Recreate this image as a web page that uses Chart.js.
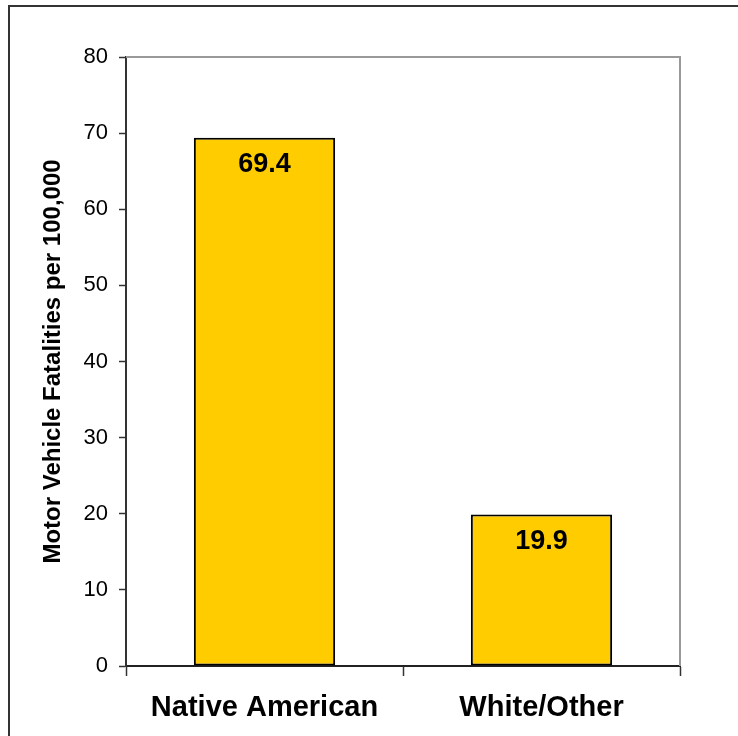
<!DOCTYPE html>
<html>
<head>
<meta charset="utf-8">
<script src="https://cdn.jsdelivr.net/npm/chart.js@4.4.1/dist/chart.umd.min.js"></script>
<style>
  html, body { margin: 0; padding: 0; background: #fff; overflow: hidden; }
  canvas { display: block; }
</style>
</head>
<body>
<canvas id="chart1" width="738" height="736"></canvas>
<script>
// values
var categories = ['Native American', 'White/Other'];
var fatalities = [69.4, 19.9];
var yTitle = 'Motor Vehicle Fatalities per 100,000';

var fontFamily = "'Liberation Sans', Arial, sans-serif";

// frame around the whole picture + grey top/right edge of the plot area
var framePlugin = {
    id: 'frame',
    beforeDraw: function(chart) {
        var c = chart.ctx;
        c.save();
        c.fillStyle = '#333';
        c.fillRect(8, 5, chart.width, 2);
        c.fillRect(8, 5, 2, chart.height);
        c.restore();
    },
    afterDraw: function(chart) {
        var a = chart.chartArea, c = chart.ctx;
        c.save();
        c.strokeStyle = '#999';
        c.lineWidth = 2;
        c.beginPath();
        c.moveTo(a.left, a.top);
        c.lineTo(a.right, a.top);
        c.lineTo(a.right, a.bottom);
        c.stroke();
        c.restore();
    }
};

// value labels inside the bars, near the top
var barLabels = {
    id: 'barLabels',
    afterDatasetsDraw: function(chart) {
        var c = chart.ctx;
        var meta = chart.getDatasetMeta(0);
        c.save();
        c.font = 'bold 27px ' + fontFamily;
        c.fillStyle = '#000';
        c.textAlign = 'center';
        c.textBaseline = 'middle';
        meta.data.forEach(function(bar, i) {
            c.fillText(fatalities[i].toFixed(1), bar.x, bar.y + 27);
        });
        c.restore();
    }
};

var ctx1 = document.getElementById('chart1');
var chart1 = new Chart(ctx1, {
    type: 'bar',
    data: {
        labels: categories,
        datasets: [{
            data: fatalities,
            backgroundColor: '#FFCC00',
            borderColor: '#000',
            borderWidth: 2,
            borderSkipped: false,
            barPercentage: 0.51,
            categoryPercentage: 1
        }]
    },
    options: {
        responsive: false,
        animation: false,
        events: [],
        layout: { padding: { left: 35, right: 58, top: 57, bottom: 0 } },
        plugins: {
            legend: { display: false },
            tooltip: { enabled: false }
        },
        scales: {
            x: {
                grid: {
                    display: true,
                    drawOnChartArea: false,
                    drawTicks: true,
                    tickLength: 10,
                    tickWidth: 1.5,
                    tickColor: '#333',
                    offset: true
                },
                border: { display: true, color: '#222', width: 2 },
                ticks: {
                    color: '#000',
                    padding: 15,
                    font: { family: fontFamily, size: 29, weight: 'bold' }
                },
                afterFit: function(scale) { scale.height = 70; }
            },
            y: {
                min: 0,
                max: 80,
                grid: {
                    display: true,
                    drawOnChartArea: false,
                    drawTicks: true,
                    tickLength: 7,
                    tickWidth: 1.5,
                    tickColor: '#333'
                },
                border: { display: true, color: '#333', width: 2 },
                ticks: {
                    stepSize: 10,
                    color: '#000',
                    padding: 11,
                    font: { family: fontFamily, size: 22 }
                },
                title: {
                    display: true,
                    text: yTitle,
                    color: '#000',
                    font: { family: fontFamily, size: 24, weight: 'bold' }
                },
                afterFit: function(scale) { scale.width = 91; }
            }
        }
    },
    plugins: [framePlugin, barLabels]
});
</script>
</body>
</html>
